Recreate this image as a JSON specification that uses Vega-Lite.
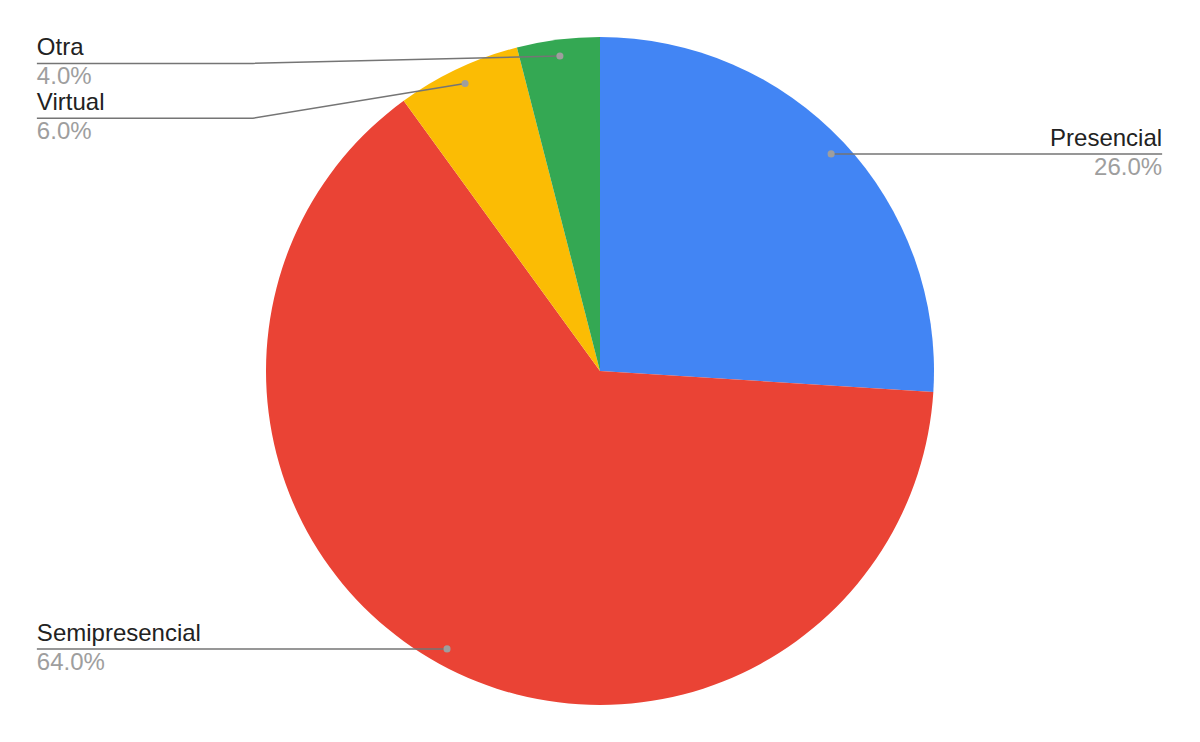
{
  "$schema": "https://vega.github.io/schema/vega-lite/v6.json",
  "description": "Pie chart of modalidad shares with leader-line labels.",
  "width": 1200,
  "height": 742,
  "autosize": {"type": "fit", "contains": "padding"},
  "padding": 0,
  "config": {"view": {"stroke": null}, "font": "Liberation Sans"},
  "datasets": {
    "shares": [
      {"modalidad": "Presencial", "pct": 26, "rank": 1},
      {"modalidad": "Semipresencial", "pct": 64, "rank": 2},
      {"modalidad": "Virtual", "pct": 6, "rank": 3},
      {"modalidad": "Otra", "pct": 4, "rank": 4}
    ],
    "leaders": [
      {"modalidad": "Presencial", "step": 0, "x": 0.692, "y": 0.65},
      {"modalidad": "Presencial", "step": 1, "x": 1.683, "y": 0.65},
      {"modalidad": "Semipresencial", "step": 0, "x": -0.458, "y": -0.832},
      {"modalidad": "Semipresencial", "step": 1, "x": -1.686, "y": -0.832},
      {"modalidad": "Virtual", "step": 0, "x": -0.404, "y": 0.861},
      {"modalidad": "Virtual", "step": 1, "x": -1.039, "y": 0.757},
      {"modalidad": "Virtual", "step": 2, "x": -1.686, "y": 0.757},
      {"modalidad": "Otra", "step": 0, "x": -0.12, "y": 0.943},
      {"modalidad": "Otra", "step": 1, "x": -1.039, "y": 0.921},
      {"modalidad": "Otra", "step": 2, "x": -1.686, "y": 0.921}
    ],
    "labels": [
      {"modalidad": "Presencial", "valor": "26.0%", "side": "right", "x": 1.683, "y": 0.65},
      {"modalidad": "Semipresencial", "valor": "64.0%", "side": "left", "x": -1.686, "y": -0.832},
      {"modalidad": "Virtual", "valor": "6.0%", "side": "left", "x": -1.686, "y": 0.757},
      {"modalidad": "Otra", "valor": "4.0%", "side": "left", "x": -1.686, "y": 0.921}
    ]
  },
  "layer": [
    {
      "data": {"name": "shares"},
      "mark": {"type": "arc", "outerRadius": 334},
      "encoding": {
        "theta": {"field": "pct", "type": "quantitative", "stack": true},
        "order": {"field": "rank", "type": "quantitative"},
        "color": {
          "field": "modalidad",
          "type": "nominal",
          "legend": null,
          "scale": {
            "domain": ["Presencial", "Semipresencial", "Virtual", "Otra"],
            "range": ["#4285f4", "#ea4335", "#fbbc04", "#34a853"]
          }
        }
      }
    },
    {
      "data": {"name": "leaders"},
      "mark": {"type": "line", "color": "#757575", "strokeWidth": 1.5},
      "encoding": {
        "x": {"field": "x", "type": "quantitative", "scale": {"domain": [-1.7964, 1.7964], "nice": false, "zero": false}, "axis": null},
        "y": {"field": "y", "type": "quantitative", "scale": {"domain": [-1.1108, 1.1108], "nice": false, "zero": false}, "axis": null},
        "detail": {"field": "modalidad"},
        "order": {"field": "step", "type": "quantitative"}
      }
    },
    {
      "data": {"name": "leaders"},
      "transform": [{"filter": "datum.step == 0"}],
      "mark": {"type": "circle", "color": "#9e9e9e", "size": 50, "opacity": 1},
      "encoding": {
        "x": {"field": "x", "type": "quantitative"},
        "y": {"field": "y", "type": "quantitative"}
      }
    },
    {
      "data": {"name": "labels"},
      "transform": [{"filter": "datum.side == 'left'"}],
      "layer": [
        {
          "mark": {"type": "text", "align": "left", "baseline": "alphabetic", "dy": -8, "fontSize": 24, "color": "#222222"},
          "encoding": {"text": {"field": "modalidad"}}
        },
        {
          "mark": {"type": "text", "align": "left", "baseline": "alphabetic", "dy": 21, "fontSize": 24, "color": "#9e9e9e"},
          "encoding": {"text": {"field": "valor"}}
        }
      ],
      "encoding": {
        "x": {"field": "x", "type": "quantitative"},
        "y": {"field": "y", "type": "quantitative"}
      }
    },
    {
      "data": {"name": "labels"},
      "transform": [{"filter": "datum.side == 'right'"}],
      "layer": [
        {
          "mark": {"type": "text", "align": "right", "baseline": "alphabetic", "dy": -8, "fontSize": 24, "color": "#222222"},
          "encoding": {"text": {"field": "modalidad"}}
        },
        {
          "mark": {"type": "text", "align": "right", "baseline": "alphabetic", "dy": 21, "fontSize": 24, "color": "#9e9e9e"},
          "encoding": {"text": {"field": "valor"}}
        }
      ],
      "encoding": {
        "x": {"field": "x", "type": "quantitative"},
        "y": {"field": "y", "type": "quantitative"}
      }
    }
  ]
}
